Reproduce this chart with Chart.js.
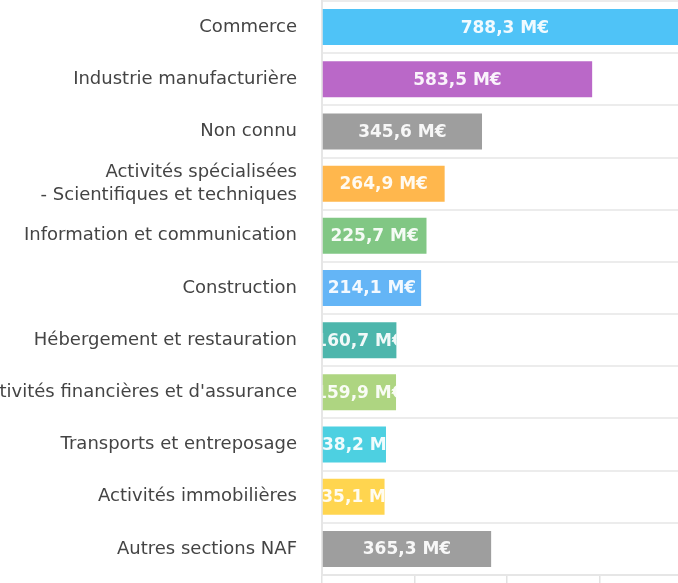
<!DOCTYPE html>
<html>
<head>
<meta charset="utf-8">
<script src="https://cdn.jsdelivr.net/npm/chart.js@4"></script>
<style>
  html, body { margin: 0; padding: 0; background: #fff; overflow: hidden; width: 678px; height: 583px; }
  #wrap { position: absolute; left: -28px; top: 0; width: 813px; height: 600px; }
</style>
</head>
<body>
<div id="wrap"><canvas id="chart"></canvas></div>
<script>
const sectors = [
    'Commerce',
    'Industrie manufacturière',
    'Non connu',
    ['Activités spécialisées', '- Scientifiques et techniques'],
    'Information et communication',
    'Construction',
    'Hébergement et restauration',
    "Activités financières et d'assurance",
    'Transports et entreposage',
    'Activités immobilières',
    'Autres sections NAF'
];
const amounts = [788.3, 583.5, 345.6, 264.9, 225.7, 214.1, 160.7, 159.9, 138.2, 135.1, 365.3];
const barColors = ['#4fc3f7', '#ba68c8', '#9e9e9e', '#ffb74d', '#81c784', '#64b5f6',
    '#4db6ac', '#aed581', '#4dd0e1', '#ffd54f', '#9e9e9e'];
const xTicks = [0, 200, 400, 600, 800, 1000];

// value labels centred in each bar, clipped to the bar
const barLabels = {
    id: 'barLabels',
    afterDatasetsDraw(chart) {
        const ctx = chart.ctx;
        const meta = chart.getDatasetMeta(0);
        meta.data.forEach((bar, i) => {
            const left = Math.min(bar.base, bar.x);
            const w = Math.abs(bar.x - bar.base);
            const top = bar.y - bar.height / 2;
            ctx.save();
            ctx.beginPath();
            ctx.rect(left, top, w, bar.height);
            ctx.clip();
            ctx.font = 'bold 17px "DejaVu Sans"';
            ctx.fillStyle = 'rgba(255,255,255,0.92)';
            ctx.textAlign = 'center';
            ctx.textBaseline = 'middle';
            ctx.fillText(amounts[i].toFixed(1).replace('.', ',') + ' M€', left + w / 2, bar.y + 1);
            ctx.restore();
        });
    }
};

new Chart(document.getElementById('chart'), {
    type: 'bar',
    data: {
        labels: sectors,
        datasets: [{
            data: amounts,
            backgroundColor: barColors,
            borderWidth: 0,
            categoryPercentage: 1,
            barPercentage: 0.69
        }]
    },
    options: {
        indexAxis: 'y',
        responsive: true,
        maintainAspectRatio: false,
        animation: false,
        layout: { padding: { top: 1, right: 0, bottom: 0, left: 0 } },
        plugins: {
            legend: { display: false },
            tooltip: { enabled: false }
        },
        scales: {
            x: {
                min: xTicks[0],
                max: xTicks[xTicks.length - 1],
                afterBuildTicks: s => { s.ticks = xTicks.map(v => ({ value: v })); },
                afterFit: s => { s.height = 25; s.paddingLeft = 0; s.paddingRight = 0; },
                ticks: { display: false },
                grid: { drawOnChartArea: false, drawTicks: true, tickLength: 12, color: '#e2e2e2', lineWidth: 1.5 },
                border: { color: '#e6e6e6', width: 2 }
            },
            y: {
                afterFit: s => { s.width = 350; s.paddingTop = 0; s.paddingBottom = 0; },
                ticks: {
                    padding: 25,
                    color: '#444',
                    font: { family: '"DejaVu Sans"', size: 18, lineHeight: 1.28 }
                },
                grid: { drawTicks: false, color: '#ececec', lineWidth: 2 },
                border: { color: '#e6e6e6', width: 2 }
            }
        }
    },
    plugins: [barLabels]
});
</script>
</body>
</html>
